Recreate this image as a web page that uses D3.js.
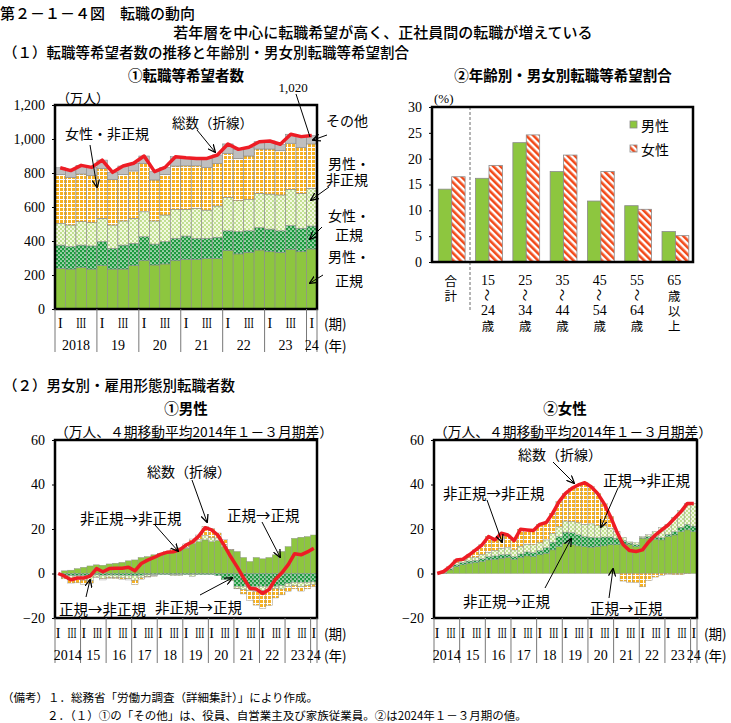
<!DOCTYPE html>
<html><head><meta charset="utf-8">
<script src="https://cdn.jsdelivr.net/npm/d3@7"></script>
<style>
body{margin:0;background:#fff;}
svg text{font-family:"Noto Sans CJK JP","Noto Sans",sans-serif;fill:#000;}
svg .num{font-family:"Liberation Serif","DejaVu Serif",serif;}
</style></head><body>
<svg id="c" width="731" height="723"></svg>
<script>
// ---------- DATA ----------
// (1)① 転職等希望者数（万人） 2018 I期 ～ 2024 I期
const topYears = ["2018","19","20","21","22","23","24"];
const quarterMarks = ["I","","III",""];
const maleReg      = [239,235,245,235,255,235,235,255,284,259,265,284,292,292,296,296,343,324,333,347,337,333,351,337,353];
const femaleReg    = [137,132,131,136,141,122,141,131,141,123,131,132,137,124,120,126,117,131,127,131,133,127,139,138,135];
const maleNonReg   = [128,127,138,137,137,137,142,147,147,136,157,170,157,176,166,184,197,182,185,202,206,211,214,205,222];
const femaleNonReg = [288,281,280,276,294,269,274,279,285,241,239,255,256,250,251,251,259,249,255,261,265,260,271,271,261];
const otherWork    = [39,39,51,49,49,41,49,45,43,49,41,55,48,44,53,49,55,53,51,43,47,38,53,63,49];
const topTicks = [0,200,400,600,800,1000,1200];

// (1)② 年齢別・男女別転職等希望割合（%）
const ageLabels = [["合","計"],["15","～","24","歳"],["25","～","34","歳"],["35","～","44","歳"],["45","～","54","歳"],["55","～","64","歳"],["65","歳","以","上"]];
const maleRate   = [14.1,16.2,23.1,17.5,11.8,10.9,5.9];
const femaleRate = [16.5,18.7,24.6,20.7,17.5,10.2,5.1];
const rateTicks = [0,5,10,15,20,25,30];

// (2) 男女別・雇用形態別転職者数（万人、4期移動平均 2014年1-3月期差） 2014 I期 ～ 2024 I期
const bottomYears = ["2014","15","16","17","18","19","20","21","22","23","24"];
const diffTicks = [-20,0,20,40,60];
// 男性
const mRegReg   = [0,1.2,1.5,2.2,2.8,3.4,3.9,3.7,4.3,4.6,5.0,5.7,6.1,7.2,7.6,8.4,8.8,9.1,9.9,10.6,11.4,13.6,14.3,15.1,14.3,14.8,12.1,10.6,9.9,7.2,5.4,7.2,6.6,7.2,8.4,9.9,12.1,15.8,16.3,16.6,17.3];
const mNonToReg = [0,-0.8,-1.0,-1.0,-1.0,-0.8,-0.6,-0.8,-0.7,-0.7,-0.8,-0.8,-1.0,-0.8,-0.6,-0.5,-0.5,-0.5,-0.5,-0.5,-0.5,-0.5,-0.5,-0.5,-0.5,-1.0,-2.8,-2.8,-5.8,-5.8,-5.8,-5.8,-5.8,-5.8,-5.8,-5.5,-4.5,-4.0,-4.0,-4.0,-3.8];
const mRegToNon = [0,-1.0,-1.8,-1.5,-2.0,-2.5,-1.0,-1.5,-1.0,-1.2,-1.2,-1.5,-2.0,-1.2,-0.8,-0.5,0.3,0.2,-0.5,-0.5,0.5,-0.8,1.0,2.0,1.8,1.2,1.0,-0.5,-0.8,-1.5,-2.0,-2.2,-2.0,-1.5,-1.0,-1.5,-1.5,-1.5,-2.0,-1.5,-1.2];
const mNonNon   = [0,-0.6,-1.5,-1.7,-1.8,-1.3,-0.1,-0.6,-0.4,-0.3,-0.6,-0.6,-1.9,-0.7,-0.2,-0.2,0.0,0.7,0.9,1.0,1.4,1.9,2.0,4.0,4.0,2.2,2.2,0.2,-0.3,-1.9,-4.2,-6.2,-7.8,-7.1,-4.2,-2.6,-2.1,-1.4,-1.9,-1.4,-0.9];
// 女性
const wRegReg   = [0,0.1,1.6,3.1,3.9,4.6,4.9,5.4,6.1,6.4,6.9,7.3,6.4,7.3,7.9,7.6,8.4,9.1,10.6,12.1,13.6,12.9,12.4,12.1,11.8,12.1,12.4,12.9,12.9,13.3,12.9,12.1,15.8,15.8,15.4,15.1,16.6,17.3,18.8,19.6,18.8];
const wNonToReg = [0,0.3,0.5,0.8,1.0,1.0,1.0,1.2,1.5,1.5,1.5,1.3,1.2,1.5,1.8,1.8,2.0,2.5,3.5,4.5,5.0,5.5,5.0,4.5,4.5,4.0,4.0,3.5,3.0,1.5,0.8,0.8,0.3,0.8,1.0,1.0,1.0,1.5,2.0,2.5,2.5];
const wRegToNon = [0,0.3,0.5,1.0,1.0,1.5,1.5,2.0,2.0,2.5,3.0,3.0,3.0,3.5,3.5,3.5,3.5,3.5,4.0,4.5,5.0,5.0,5.5,5.5,6.0,5.5,5.0,4.0,3.0,1.5,0.5,1.0,0.5,0.8,2.5,4.5,4.5,6.5,7.5,9.5,10.2];
const wNonNon   = [0,0.2,0.5,1.2,0.5,1.3,3.2,4.3,7.0,4.7,6.7,5.7,4.2,7.6,6.4,6.4,8.2,7.8,9.0,11.2,12.4,14.9,16.9,18.7,16.7,14.4,10.1,5.2,-0.1,-3.4,-3.9,-4.0,-6.0,-3.1,-1.6,-1.0,-0.3,-0.5,-0.5,-0.1,0.0];

// ---------- SETUP ----------
const svg = d3.select("#c");
const defs = svg.append("defs");
function pat(id,w,h,bg,draw){
  const p=defs.append("pattern").attr("id",id).attr("patternUnits","userSpaceOnUse").attr("width",w).attr("height",h);
  p.append("rect").attr("width",w).attr("height",h).attr("fill",bg); draw(p); return p;
}
pat("pDark",4,4,"#1d9a3e",p=>{[[1,1],[3,3]].forEach(c=>p.append("circle").attr("cx",c[0]).attr("cy",c[1]).attr("r",0.85).attr("fill","#fff"));});
pat("pLight",4,4,"#f4f9e3",p=>{[[1,1],[3,3]].forEach(c=>p.append("circle").attr("cx",c[0]).attr("cy",c[1]).attr("r",0.9).attr("fill","#a8d46c"));});
pat("pOrange",4,4,"#ffffff",p=>{p.append("rect").attr("width",3).attr("height",3).attr("fill","#f7b120");});
pat("pStripe",5,5,"#ffffff",p=>{p.append("rect").attr("width",2.6).attr("height",5).attr("fill","#f24a1a");}).attr("patternTransform","rotate(-45)");
const GREEN="#8dc63f", GRAY="#bfbfbf", RED="#ee1c25", EDGE="#8a8a8a";
const fills = {solid:GREEN, dark:"url(#pDark)", light:"url(#pLight)", orange:"url(#pOrange)", gray:GRAY};

const mk = defs.append("marker").attr("id","ah").attr("viewBox","0 0 10 10").attr("refX",9).attr("refY",5)
  .attr("markerUnits","userSpaceOnUse").attr("markerWidth",8).attr("markerHeight",8).attr("orient","auto");
mk.append("path").attr("d","M0,0.5 L10,5 L0,9.5").attr("fill","none").attr("stroke","#000").attr("stroke-width",1.6);

function txt(x,y,s,opt={}){
  const t=svg.append("text").attr("x",x).attr("y",y).attr("dominant-baseline","central")
    .attr("font-size",opt.size||14).attr("text-anchor",opt.anchor||"start").text(s);
  if(opt.cls) t.attr("class",opt.cls);
  if(opt.weight) t.attr("font-weight",opt.weight);
  if(opt.len) t.attr("textLength",opt.len).attr("lengthAdjust","spacingAndGlyphs");
  return t;
}
function arrow(x1,y1,x2,y2,head=true){
  const l=svg.append("line").attr("x1",x1).attr("y1",y1).attr("x2",x2).attr("y2",y2).attr("stroke","#000").attr("stroke-width",1);
  if(head) l.attr("marker-end","url(#ah)");
}

// ---------- HEADINGS ----------
txt(0,12,"第２－１－４図　転職の動向",{size:15,weight:500});
txt(383,31,"若年層を中心に転職希望が高く、正社員間の転職が増えている",{size:15,anchor:"middle",weight:500});
txt(3,51,"（１）転職等希望者数の推移と年齢別・男女別転職等希望割合",{size:14.5,weight:500});
txt(186,74,"①転職等希望者数",{size:14.5,anchor:"middle",weight:700});
txt(563,74,"②年齢別・男女別転職等希望割合",{size:14.5,anchor:"middle",weight:700});
txt(3,384,"（２）男女別・雇用形態別転職者数",{size:14.5,weight:500});
txt(186,407,"①男性",{size:14.5,anchor:"middle",weight:700});
txt(565,407,"②女性",{size:14.5,anchor:"middle",weight:700});

// ---------- CHART A : 転職等希望者数 ----------
(function(){
  const L=55,R=317,T=105,B=309;
  const n=maleReg.length;
  const x=d3.scaleBand().domain(d3.range(n)).range([L,R]).padding(0);
  const y=d3.scaleLinear().domain([0,1200]).range([B,T]);
  const keys=["maleReg","femaleReg","maleNonReg","femaleNonReg","otherWork"];
  const kf={maleReg:fills.solid,femaleReg:fills.dark,maleNonReg:fills.light,femaleNonReg:fills.orange,otherWork:fills.gray};
  const rows=d3.range(n).map(i=>({i,maleReg:maleReg[i],femaleReg:femaleReg[i],maleNonReg:maleNonReg[i],femaleNonReg:femaleNonReg[i],otherWork:otherWork[i]}));
  const st=d3.stack().keys(keys)(rows);
  const g=svg.append("g");
  st.forEach(s=>{
    g.selectAll(null).data(s).join("rect")
      .attr("x",d=>x(d.data.i)).attr("width",x.bandwidth())
      .attr("y",d=>y(d[1])).attr("height",d=>y(d[0])-y(d[1]))
      .attr("fill",kf[s.key]).attr("stroke",EDGE).attr("stroke-width",0.6);
  });
  const totals=rows.map(r=>keys.reduce((a,k)=>a+r[k],0));
  svg.append("path").datum(totals)
    .attr("d",d3.line().x((d,i)=>x(i)+x.bandwidth()/2).y(d=>y(d)))
    .attr("fill","none").attr("stroke",RED).attr("stroke-width",3.5).attr("stroke-linejoin","round");
  svg.append("rect").attr("x",L).attr("y",T).attr("width",R-L).attr("height",B-T).attr("fill","none").attr("stroke","#000").attr("stroke-width",2.5);
  const ax=svg.append("g").attr("transform",`translate(${L},0)`)
    .call(d3.axisLeft(y).tickValues(topTicks).tickFormat(d3.format(",")).tickSize(3));
  ax.select(".domain").remove();
  ax.selectAll("text").attr("class","num").attr("font-size",14).attr("x",-10).attr("fill","#000");
  txt(57,97,"（万人）",{size:13});
  // x labels
  const bw=x.bandwidth();
  for(let k=0;k<=topYears.length;k++){
    const xx = k<topYears.length ? L+4*k*bw : R;
    svg.append("line").attr("x1",xx).attr("x2",xx).attr("y1",B).attr("y2",352).attr("stroke","#777").attr("stroke-width",1);
  }
  d3.range(n).forEach(i=>{
    const q=quarterMarks[i%4];
    if(q) txt(x(i)+bw/2,323,q,{size:14,anchor:"middle",cls:"num",len:q.length>1?10:undefined});
  });
  topYears.forEach((yr,k)=>{
    const i0=4*k, i1=Math.min(4*k+3,n-1);
    txt((x(i0)+x(i1)+bw)/2,345,yr,{size:14,anchor:"middle",cls:"num"});
  });
  txt(324,323,"(期)",{size:13.5});
  txt(324,345,"(年)",{size:13.5});
  // annotations
  txt(293,87,"1,020",{size:13,anchor:"middle",cls:"num"});
  arrow(296,94,310,137,false);
  txt(172,122,"総数（折線）",{size:13.5});
  arrow(197,130,215,152);
  txt(65,133,"女性・非正規",{size:14});
  arrow(90,145,97,187);
  txt(326,120,"その他",{size:14});
  arrow(327,135,313,140);
  txt(328,163,"男性・",{size:14});
  txt(326,179,"非正規",{size:14});
  arrow(329,187,311,200);
  txt(328,215,"女性・",{size:14});
  txt(335,234,"正規",{size:14});
  arrow(322,227,310,239);
  txt(328,256,"男性・",{size:14});
  txt(335,280,"正規",{size:14});
  arrow(323,275,310,283);
})();

// ---------- CHART B : 年齢別・男女別 ----------
(function(){
  const L=432,R=693,T=107,B=262;
  const x=d3.scaleBand().domain(d3.range(maleRate.length)).range([L,R]).padding(0);
  const y=d3.scaleLinear().domain([0,30]).range([B,T]);
  const bw=13.4, off=6.3;
  svg.append("g").selectAll("rect").data(maleRate).join("rect")
    .attr("x",(d,i)=>x(i)+off).attr("width",bw).attr("y",d=>y(d)).attr("height",d=>B-y(d))
    .attr("fill",GREEN).attr("stroke",EDGE).attr("stroke-width",0.8);
  svg.append("g").selectAll("rect").data(femaleRate).join("rect")
    .attr("x",(d,i)=>x(i)+off+bw).attr("width",bw).attr("y",d=>y(d)).attr("height",d=>B-y(d))
    .attr("fill","url(#pStripe)").attr("stroke",EDGE).attr("stroke-width",0.8);
  svg.append("line").attr("x1",470).attr("x2",470).attr("y1",T).attr("y2",311).attr("stroke","#444").attr("stroke-width",0.8).attr("stroke-dasharray","3,2");
  svg.append("rect").attr("x",L).attr("y",T).attr("width",R-L).attr("height",B-T).attr("fill","none").attr("stroke","#000").attr("stroke-width",2.5);
  const ax=svg.append("g").attr("transform",`translate(${L},0)`)
    .call(d3.axisLeft(y).tickValues(rateTicks).tickSize(3));
  ax.select(".domain").remove();
  ax.selectAll("text").attr("class","num").attr("font-size",14).attr("x",-10).attr("fill","#000");
  txt(434,98,"(%)",{size:13,cls:"num"});
  // legend
  svg.append("rect").attr("x",630).attr("y",121).attr("width",7).attr("height",7).attr("fill",GREEN).attr("stroke",EDGE).attr("stroke-width",0.8);
  txt(641,125,"男性",{size:14});
  svg.append("rect").attr("x",630).attr("y",145).attr("width",7).attr("height",7).attr("fill","url(#pStripe)").attr("stroke",EDGE).attr("stroke-width",0.8);
  txt(641,149,"女性",{size:14});
  // x labels (vertical)
  const rowsY=[280,295,310,325];
  ageLabels.forEach((lab,i)=>{
    const cx=x(i)+x.bandwidth()/2;
    lab.forEach((s,j)=>{
      const isNum=/^[0-9]+$/.test(s);
      const t=txt(cx,rowsY[j],s,{size:isNum?14:12.5,anchor:"middle",cls:isNum?"num":undefined});
      if(s==="～") t.attr("transform",`rotate(90,${cx},${rowsY[j]})`);
    });
  });
})();

// ---------- CHARTS C & D : 転職者数 ----------
function diffChart(L,R,series,labX){
  const T=440,B=618;
  const n=series[0].length;
  const x=d3.scaleBand().domain(d3.range(n)).range([L,R]).padding(0);
  const y=d3.scaleLinear().domain([-20,60]).range([B,T]);
  const keys=["rr","nr","rn","nn"];
  const kf={rr:fills.solid,nr:fills.dark,rn:fills.light,nn:fills.orange};
  const rows=d3.range(n).map(i=>({i,rr:series[0][i],nr:series[1][i],rn:series[2][i],nn:series[3][i]}));
  const st=d3.stack().keys(keys).offset(d3.stackOffsetDiverging)(rows);
  const g=svg.append("g");
  st.forEach(s=>{
    g.selectAll(null).data(s.filter(d=>Math.abs(d[1]-d[0])>0.001)).join("rect")
      .attr("x",d=>x(d.data.i)).attr("width",x.bandwidth())
      .attr("y",d=>y(Math.max(d[0],d[1]))).attr("height",d=>Math.abs(y(d[0])-y(d[1])))
      .attr("fill",kf[s.key]).attr("stroke",EDGE).attr("stroke-width",0.4);
  });
  const totals=rows.map(r=>keys.reduce((a,k)=>a+r[k],0));
  svg.append("path").datum(totals)
    .attr("d",d3.line().x((d,i)=>x(i)+x.bandwidth()/2).y(d=>y(d)))
    .attr("fill","none").attr("stroke",RED).attr("stroke-width",3.5).attr("stroke-linejoin","round");
  svg.append("rect").attr("x",L).attr("y",T).attr("width",R-L).attr("height",B-T).attr("fill","none").attr("stroke","#000").attr("stroke-width",2.5);
  const ax=svg.append("g").attr("transform",`translate(${L},0)`)
    .call(d3.axisLeft(y).tickValues(diffTicks).tickSize(3));
  ax.select(".domain").remove();
  ax.selectAll("text").attr("class","num").attr("font-size",14).attr("x",-10).attr("fill","#000");
  txt(L,431,"（万人、４期移動平均2014年１－３月期差）",{size:13.5,len:278});
  const bw=x.bandwidth();
  for(let k=0;k<=bottomYears.length;k++){
    const xx = k<bottomYears.length ? L+4*k*bw : R;
    svg.append("line").attr("x1",xx).attr("x2",xx).attr("y1",B).attr("y2",663).attr("stroke","#777").attr("stroke-width",1);
  }
  d3.range(n).forEach(i=>{
    const q=quarterMarks[i%4];
    if(q) txt(x(i)+bw/2+(q==="I"?0:1),633,q,{size:14,anchor:"middle",cls:"num",len:q.length>1?9:undefined});
  });
  bottomYears.forEach((yr,k)=>{
    const i0=4*k, i1=Math.min(4*k+3,n-1);
    txt((x(i0)+x(i1)+bw)/2,655,yr,{size:14,anchor:"middle",cls:"num"});
  });
  txt(labX,633,"(期)",{size:13.5});
  txt(labX,655,"(年)",{size:13.5});
}
diffChart(55,317,[mRegReg,mNonToReg,mRegToNon,mNonNon],324);
diffChart(434,697,[wRegReg,wNonToReg,wRegToNon,wNonNon],704);

// annotations men
txt(147,471,"総数（折線）",{size:14});
arrow(192,480,207,522);
txt(80,517,"非正規→非正規",{size:14.5});
arrow(155,525,178,551);
txt(227,514,"正規→正規",{size:14.5});
arrow(262,522,280,557);
txt(59,608,"正規→非正規",{size:14.5});
arrow(86,597,90,580);
txt(155,606,"非正規→正規",{size:14.5});
arrow(200,595,232,578);
// annotations women
txt(518,454,"総数（折線）",{size:14});
arrow(553,462,574,483);
txt(603,479,"正規→非正規",{size:14.5});
arrow(618,488,601,527);
txt(443,492,"非正規→非正規",{size:14.5});
arrow(487,500,502,542);
txt(463,600,"非正規→正規",{size:14.5});
arrow(545,588,571,539);
txt(590,607,"正規→正規",{size:14.5});
arrow(609,598,613,569);

// ---------- NOTES ----------
txt(2,697,"（備考）１．総務省「労働力調査（詳細集計）」により作成。",{size:11.5});
txt(47,715,"２．（１）①の「その他」は、役員、自営業主及び家族従業員。②は2024年１－３月期の値。",{size:11.5});
</script>
</body></html>
